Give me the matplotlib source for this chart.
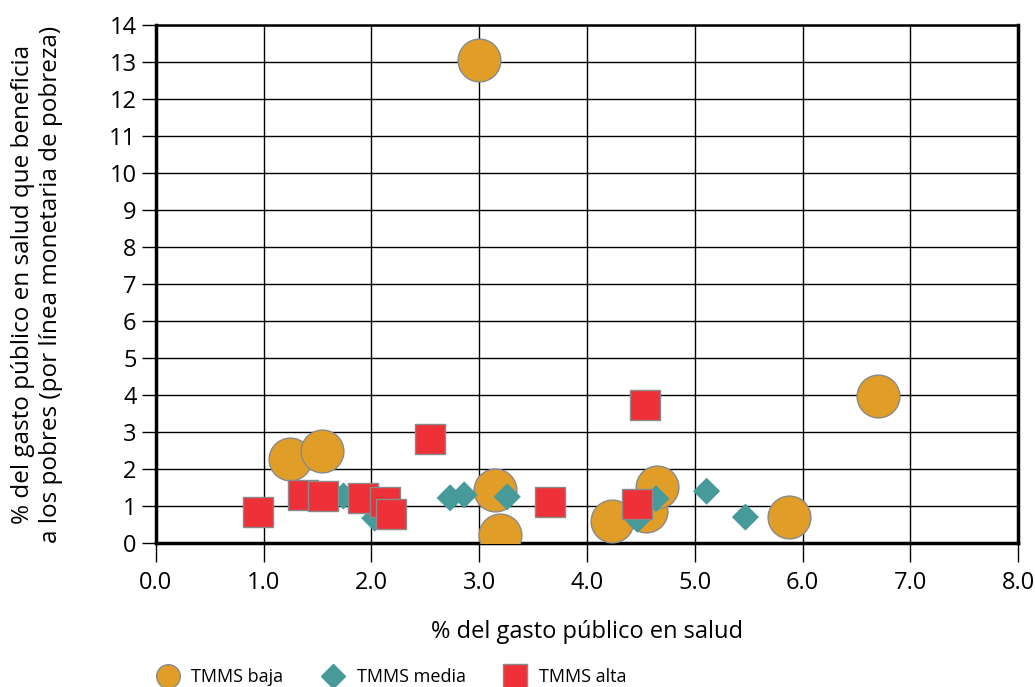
import numpy as np
import matplotlib.pyplot as plt
from matplotlib.lines import Line2D

plt.rcParams['font.family'] = ['Open Sans', 'DejaVu Sans']
plt.rcParams['font.size'] = 17

# TMMS baja (circles)
baja_x = [3.00, 6.70, 1.24, 1.54, 3.15, 3.19, 4.23, 4.55, 4.65, 5.87]
baja_y = [13.05, 3.98, 2.28, 2.48, 1.43, 0.22, 0.60, 0.86, 1.51, 0.70]
# TMMS media (diamonds)
media_x = [1.74, 2.03, 2.73, 2.86, 3.26, 4.47, 4.64, 5.11, 5.47]
media_y = [1.27, 0.67, 1.22, 1.30, 1.25, 0.64, 1.20, 1.40, 0.70]
# TMMS alta (squares)
alta_x = [0.95, 1.36, 1.55, 1.92, 2.13, 2.18, 2.54, 3.66, 4.54, 4.46]
alta_y = [0.84, 1.30, 1.27, 1.22, 1.11, 0.78, 2.80, 1.11, 3.73, 1.05]

c_baja = '#E09E28'
c_media = '#469B9A'
c_alta = '#EE3139'

fig = plt.figure(figsize=(10.35, 6.87), dpi=100)
ax = fig.add_axes([0.1507, 0.2096, 0.8329, 0.7540])

ax.scatter(baja_x, baja_y, s=950, marker='o', color=c_baja, edgecolors='#8a8a8a',
           linewidths=1.0, zorder=3)
ax.scatter(media_x, media_y, s=190, marker='D', color=c_media, edgecolors='none', zorder=4)
ax.scatter(alta_x, alta_y, s=480, marker='s', color=c_alta, edgecolors='#8a8a8a',
           linewidths=1.0, zorder=5)

ax.set_xlim(0, 8)
ax.set_ylim(0, 14)
ax.set_xticks(np.arange(0, 8.1, 1))
ax.set_xticklabels(['%.1f' % v for v in np.arange(0, 8.1, 1)])
ax.set_yticks(np.arange(0, 15, 1))
ax.grid(True, color='black', linewidth=1.0)
ax.set_axisbelow(True)
ax.tick_params(axis='x', direction='out', length=14, width=1, pad=6)
ax.tick_params(axis='y', direction='out', length=10, width=1, pad=4)
for side, lw in [('left', 2.5), ('bottom', 2.5), ('right', 2.5), ('top', 1.8)]:
    ax.spines[side].set_linewidth(lw)

ax.set_xlabel('% del gasto público en salud', labelpad=18)
ax.set_ylabel('% del gasto público en salud que beneficia\na los pobres (por línea monetaria de pobreza)',
              fontsize=17.5)
ax.yaxis.set_label_coords(-0.108, 0.5)

handles = [
    Line2D([], [], marker='o', color=c_baja, markeredgecolor='#8a8a8a', linestyle='none',
           markersize=17, label='TMMS baja'),
    Line2D([], [], marker='D', color=c_media, linestyle='none', markersize=12, label='TMMS media'),
    Line2D([], [], marker='s', color=c_alta, markeredgecolor='#8a8a8a', linestyle='none',
           markersize=17, label='TMMS alta'),
]
fig.legend(handles=handles, loc='lower left', bbox_to_anchor=(0.129, -0.022), ncol=3,
           frameon=False, fontsize=13, handletextpad=0.3, columnspacing=1.75)

plt.savefig('out.png', dpi=100)
